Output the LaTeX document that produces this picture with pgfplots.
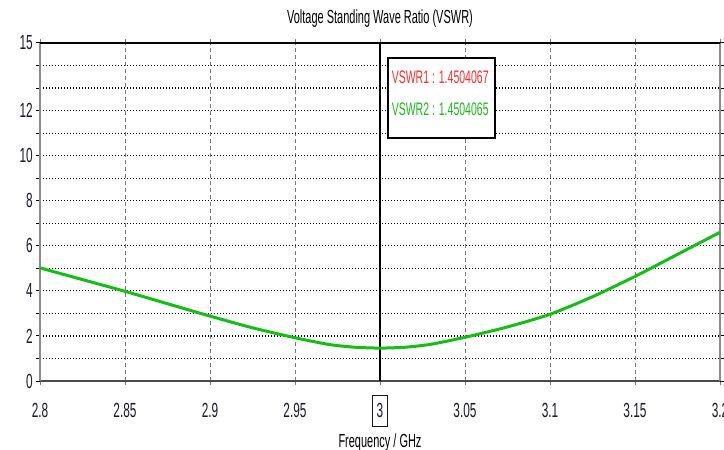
\documentclass[border=0pt]{standalone}
\usepackage{pgfplots}
\pgfplotsset{compat=1.18}
\usepackage{fontspec}
\setmainfont[FakeStretch=0.58]{Liberation Sans}
\definecolor{curvegreen}{RGB}{20,190,20}
\definecolor{vred}{RGB}{255,45,45}
\definecolor{vgreen}{RGB}{30,185,30}
\definecolor{bottomgray}{RGB}{75,75,75}
\definecolor{leftgray}{RGB}{140,140,140}
\definecolor{gridgray}{RGB}{120,120,120}
\definecolor{ticktext}{RGB}{25,25,40}
\begin{document}
\begin{tikzpicture}
\path[use as bounding box] (-40bp,-69bp) rectangle (684bp,381bp);
\begin{axis}[
  at={(0,0)}, anchor=south west,
  scale only axis, width=680bp, height=338bp,
  xmin=2.8, xmax=3.2, ymin=0, ymax=15,
  xtick={2.8,2.85,2.9,2.95,3,3.05,3.1,3.15,3.2},
  xticklabels={2.8,2.85,2.9,2.95,{{\fboxsep=3.5bp\fboxrule=1bp\fbox{\rule[-5bp]{0pt}{23bp}3}}},3.05,3.1,3.15,3.2},
  ytick={0,1,2,3,4,5,6,7,8,9,10,11,12,13,14,15},
  yticklabels={0,,2,,4,,6,,8,,10,,12,,,15},
  /pgf/number format/assume math mode=true,
  ticklabel style={font=\fontsize{20.5}{20.5}\selectfont, text=ticktext},
  xticklabel style={anchor=base, yshift=-32bp, inner sep=0pt},
  yticklabel style={anchor=east, xshift=-3bp, inner sep=0pt},
  tick align=outside,
  major tick length=4bp,
  xtick style={gridgray, line width=1bp},
  ytick style={black, line width=1bp},
  grid=major,
  x grid style={gridgray, line width=1bp, dash pattern=on 4bp off 3bp},
  y grid style={black, line width=1.2bp, dash pattern=on 1.3bp off 1.7bp},
  separate axis lines,
  x axis line style={bottomgray, line width=2bp},
  y axis line style={leftgray, line width=1.5bp},
  title={Voltage Standing Wave Ratio (VSWR)},
  title style={at={(0.5,1)}, anchor=base, yshift=14bp, inner sep=0pt, font=\fontsize{19}{19}\selectfont},
  xlabel={Frequency / GHz},
  xlabel style={at={(axis description cs:0.5,0)}, anchor=base, yshift=-66bp, inner sep=0pt, font=\fontsize{19}{19}\selectfont},
  clip=false,
]
\addplot[black, line width=1.5bp] coordinates {(3,0) (3,15)};
\addplot[curvegreen, line width=3bp, smooth, tension=0.4] coordinates {
(2.800,5.02)
(2.825,4.50)
(2.850,3.98)
(2.875,3.43)
(2.900,2.88)
(2.925,2.36)
(2.950,1.92)
(2.970,1.62)
(2.985,1.50)
(3.000,1.46)
(3.015,1.50)
(3.030,1.63)
(3.050,1.94)
(3.075,2.40)
(3.100,2.96)
(3.125,3.74)
(3.150,4.64)
(3.175,5.62)
(3.200,6.60)
};
\draw[black, line width=1.5bp] (rel axis cs:0,1) -- (rel axis cs:1,1);
\node[draw=black, line width=2bp, fill=white, anchor=north west, minimum width=107bp, minimum height=80bp, inner sep=0pt] at (axis cs:3.0041,14.4) {};
\node[anchor=west, inner sep=0pt, text=vred, font=\fontsize{18.2}{18.2}\selectfont] at (axis cs:3.0068,13.47) {VSWR1 : 1.4504067};
\node[anchor=west, inner sep=0pt, text=vgreen, font=\fontsize{18.2}{18.2}\selectfont] at (axis cs:3.0068,12.04) {VSWR2 : 1.4504065};
\end{axis}
\end{tikzpicture}
\end{document}
